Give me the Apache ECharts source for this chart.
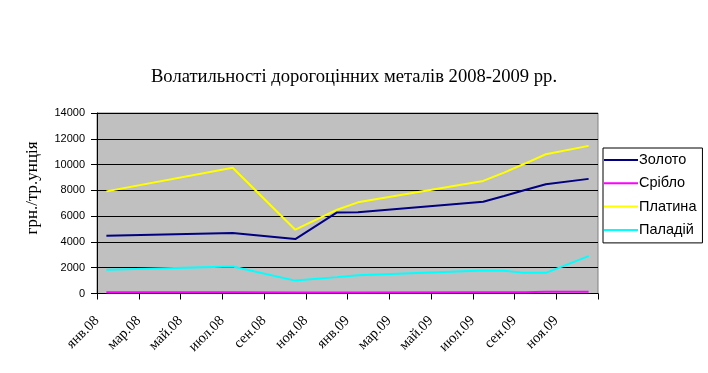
<!DOCTYPE html>
<html>
<head>
<meta charset="utf-8">
<script src="https://cdn.jsdelivr.net/npm/echarts@6/dist/echarts.min.js"></script>
<style>
html,body{margin:0;padding:0;background:#fff;}
#chart{width:708px;height:373px;}
</style>
</head>
<body>
<div id="chart"></div>
<script>
// x positions: months since 1 Jan 2008 (mid-month observations)
var months = [0.45, 6.5, 9.5, 11.5, 12.5, 18.5, 19.5, 20.5, 21.5, 23.55];
var gold      = [4480, 4700, 4220, 6290, 6300, 7120, 7560, 8030, 8470, 8890];
var silver    = [90, 95, 80, 80, 85, 90, 90, 95, 130, 140];
var platinum  = [7920, 9750, 4950, 6500, 7070, 8730, 9380, 10080, 10800, 11450];
var palladium = [1850, 2100, 1000, 1270, 1420, 1780, 1760, 1600, 1600, 2900];
var seriesNames = ['Золото', 'Срібло', 'Платина', 'Паладій'];
var tickLabels = ['янв.08','мар.08','май.08','июл.08','сен.08','ноя.08','янв.09','мар.09','май.09','июл.09','сен.09','ноя.09'];
var titleText = 'Волатильності дорогоцінних металів 2008-2009 рр.';
var yAxisTitle = 'грн./тр.унція';

function pairs(vals){ return vals.map(function(v,i){ return [months[i], v]; }); }
var colors = ['#000080', '#FF00FF', '#FFFF00', '#00FFFF'];
var allData = [gold, silver, platinum, palladium];

var chart = echarts.init(document.getElementById('chart'), null, {renderer:'canvas'});
chart.setOption({
  animation: false,
  backgroundColor: '#ffffff',
  title: {
    text: titleText, left: 'center', top: 63,
    textStyle: {fontFamily: 'Liberation Serif', fontSize: 18.6, fontWeight: 'normal', color: '#000'}
  },
  graphic: [{
    type: 'text', x: 33, y: 188, rotation: Math.PI/2,
    style: {text: yAxisTitle, fontFamily: 'Liberation Serif', fontSize: 17, fill: '#000', align: 'center', verticalAlign: 'middle'}
  }],
  legend: {
    orient: 'vertical', left: 603, top: 148,
    padding: [4, 6, 5, 1],
    borderColor: '#000', borderWidth: 1, backgroundColor: '#fff',
    itemWidth: 34, itemHeight: 2, itemGap: 7.3, icon: 'rect',
    textStyle: {fontFamily: 'Liberation Sans', fontSize: 14.5, color: '#000', lineHeight: 16, padding: [0,0,0,-4]},
    data: seriesNames
  },
  grid: {
    left: 97, top: 113, width: 501, height: 180.5,
    show: true, backgroundColor: '#C0C0C0', borderColor: '#808080', borderWidth: 1
  },
  xAxis: {
    type: 'value', min: 0, max: 24, interval: 2,
    axisLine: {show: true, lineStyle: {color: '#000', width: 1}},
    axisTick: {show: true, inside: false, length: 6, lineStyle: {color: '#000'}},
    splitLine: {show: false},
    axisLabel: {
      rotate: 45, margin: 25, hideOverlap: false, showMaxLabel: true, showMinLabel: true,
      fontFamily: 'Liberation Serif', fontSize: 14.5, color: '#000',
      formatter: function(v){ var i = Math.round(v/2); return tickLabels[i] || ''; }
    }
  },
  yAxis: {
    type: 'value', min: 0, max: 14000, interval: 2000,
    axisLine: {show: true, lineStyle: {color: '#000', width: 1}},
    axisTick: {show: true, inside: false, length: 6, lineStyle: {color: '#000'}},
    splitLine: {show: true, lineStyle: {color: '#000', width: 1}},
    axisLabel: {margin: 12, fontFamily: 'Liberation Sans', fontSize: 11, color: '#000',
      formatter: function(v){ return String(v); }}
  },
  series: seriesNames.map(function(n, k){
    return {
      name: n, type: 'line', data: pairs(allData[k]),
      showSymbol: false, symbol: 'none',
      lineStyle: {color: colors[k], width: 2},
      itemStyle: {color: colors[k]}
    };
  })
});
</script>
</body>
</html>
